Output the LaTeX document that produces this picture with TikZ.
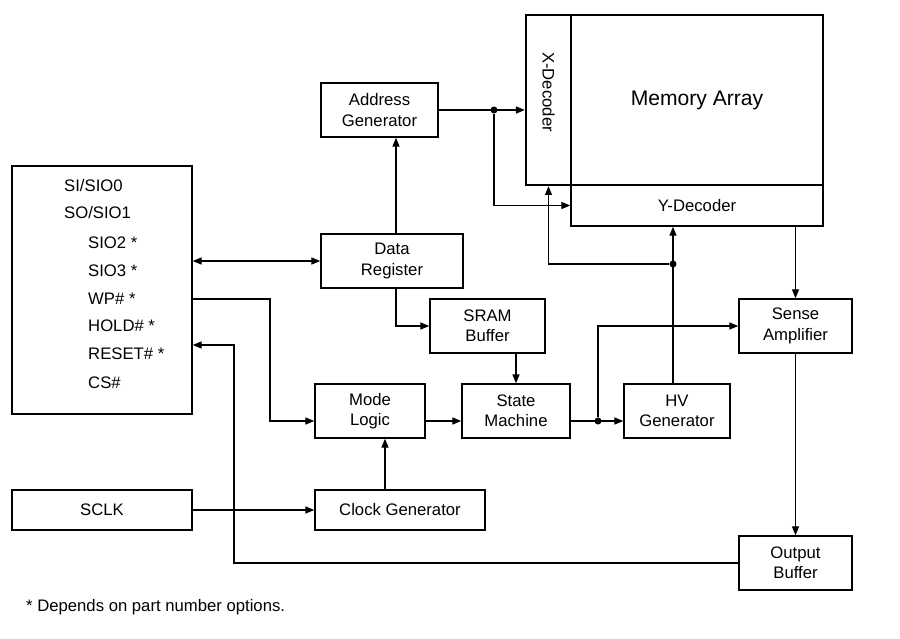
\documentclass[tikz,border=0pt]{standalone}
\usepackage{fontspec}
\setmainfont{Liberation Sans}
\usetikzlibrary{arrows.meta,calc}
\begin{document}
\begin{tikzpicture}[x=0.02cm,y=-0.02cm,
  box/.style={draw,line width=0.9pt,align=center,inner sep=0pt,font=\fontsize{9.5}{11.5}\selectfont},
  conn/.style={line width=0.6pt,-{Triangle[length=5pt,width=4pt]}},
  dot/.style={circle,fill,inner sep=0pt,minimum size=4pt},
  pin/.style={font=\fontsize{9.5}{11}\selectfont,anchor=west}]
\useasboundingbox (0,0) rectangle (900,639);
\node[box,minimum width=3.6cm,minimum height=4.96cm] (pins) at (102,290) {};
\node[pin] (p1) at (58,186) {SI/SIO0};
\node[pin] (p2) at (58,213) {SO/SIO1};
\node[pin] (p3) at (82,243) {SIO2 *};
\node[pin] (p4) at (82,271) {SIO3 *};
\node[pin] (p5) at (82,299) {WP\# *};
\node[pin] (p6) at (82,326) {HOLD\# *};
\node[pin] (p7) at (82,354) {RESET\# *};
\node[pin] (p8) at (82,383) {CS\#};
\node[box,minimum width=2.34cm,minimum height=1.08cm] (addr) at (379.5,110) {Address\\Generator};
\node[box,minimum width=0.9cm,minimum height=3.4cm,line width=1.4pt] (xdec) at (548.5,100) {};
\node[rotate=-90,font=\fontsize{9.5}{11}\selectfont] (xdl) at (548.5,92) {X-Decoder};
\node[box,minimum width=5.04cm,minimum height=3.4cm,line width=1.4pt] (mem) at (697,100) {\fontsize{12}{14}\selectfont Memory Array};
\node[box,minimum width=5.04cm,minimum height=0.82cm] (ydec) at (697,205.5) {Y-Decoder};
\node[box,minimum width=2.84cm,minimum height=1.08cm] (data) at (392,261) {Data\\Register};
\node[box,minimum width=2.3cm,minimum height=1.08cm] (sram) at (487.5,326) {SRAM\\Buffer};
\node[box,minimum width=2.26cm,minimum height=1.08cm] (sense) at (795.5,326) {Sense\\Amplifier};
\node[box,minimum width=2.2cm,minimum height=1.08cm] (mode) at (370,411) {Mode\\Logic};
\node[box,minimum width=2.16cm,minimum height=1.08cm] (state) at (516,411) {State\\Machine};
\node[box,minimum width=2.12cm,minimum height=1.08cm] (hv) at (677,411) {HV\\Generator};
\node[box,minimum width=3.6cm,minimum height=0.8cm] (sclk) at (102,510) {SCLK};
\node[box,minimum width=3.4cm,minimum height=0.8cm] (clock) at (400,510) {Clock Generator};
\node[box,minimum width=2.26cm,minimum height=1.08cm] (out) at (795.5,563) {Output\\Buffer};
\node[anchor=west,font=\fontsize{9.5}{11}\selectfont] (note) at (20,607) {* Depends on part number options.};
% connectors
\coordinate (dn) at (396,0);
\draw[conn] (dn |- data.north) -- (dn |- addr.south);
\coordinate (d1) at (494,110);
\draw[conn] (addr.east |- d1) -- (xdec.west |- d1);
\node[dot] (dd1) at (d1) {};
\draw[conn] (dd1) |- (ydec.west);
\draw[line width=0.6pt,{Triangle[length=5pt,width=4pt]}-{Triangle[length=5pt,width=4pt]}] (pins.east |- data) -- (data.west);
\draw[conn] (dn |- data.south) |- (sram.west);
\draw[conn] (sram.south -| state.north) -- (state.north);
\coordinate (w1) at (270,299);
\draw[conn] (pins.east |- w1) -- (w1) -- (w1 |- 0,421) -- (mode.west |- 0,421);
\draw[conn] (mode.east |- 0,421) -- (state.west |- 0,421);
\draw[conn] (clock.north -| 385,0) -- (mode.south -| 385,0);
\draw[conn] (sclk.east) -- (clock.west);
\coordinate (s1) at (598,421);
\draw[conn] (state.east |- s1) -- (hv.west |- s1);
\node[dot] (ds1) at (s1) {};
\draw[conn] (ds1) |- (sense.west);
\coordinate (h1) at (673,264);
\draw[conn] (hv.north -| h1) -- (ydec.south -| h1);
\node[dot] (dh1) at (h1) {};
\draw[conn] (dh1) -| (xdec.south);
\draw[conn] (ydec.south -| sense.north) -- (sense.north);
\draw[conn] (sense.south) -- (out.north);
\draw[conn] (out.west) -| (234,345) -- (pins.east |- 0,345);
\end{tikzpicture}
\end{document}
